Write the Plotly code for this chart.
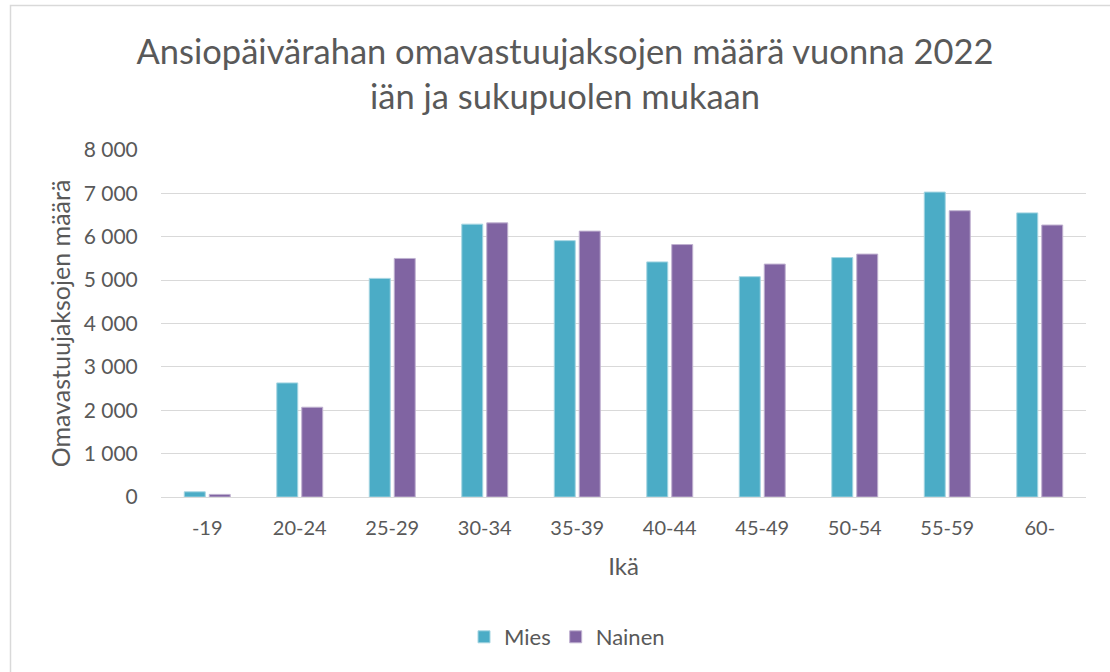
import plotly.graph_objects as go

categories = ["-19", "20-24", "25-29", "30-34", "35-39", "40-44", "45-49", "50-54", "55-59", "60-"]
mies = [120, 2630, 5040, 6290, 5910, 5420, 5080, 5520, 7030, 6550]
nainen = [60, 2070, 5500, 6320, 6130, 5820, 5370, 5600, 6600, 6270]

W, H = 1110, 672
ml, mr, mt, mb = 161, 24, 150, 175
pw, ph = W - ml - mr, H - mt - mb

FONT = "Lato"
GREY = "#595959"

fig = go.Figure()
fig.add_trace(go.Bar(name="Mies", x=categories, y=mies, marker_color="#4BACC6",
                     marker_line=dict(color="#A5D5E2", width=1)))
fig.add_trace(go.Bar(name="Nainen", x=categories, y=nainen, marker_color="#8064A2",
                     marker_line=dict(color="#BFB1D0", width=1)))

def px_x(p):
    return (p - ml) / pw

def px_y(p):
    return 1 - (p - mt) / ph

fig.update_layout(
    width=W, height=H,
    margin=dict(l=ml, r=mr, t=mt, b=mb, autoexpand=False),
    paper_bgcolor="white", plot_bgcolor="white",
    separators=", ",
    font=dict(family=FONT, color=GREY, size=20),
    barmode="group", bargap=0.46, bargroupgap=0.16,
    title=dict(text="Ansiopäivärahan omavastuujaksojen määrä vuonna 2022<br>iän ja sukupuolen mukaan",
               x=565 / W, xanchor="center", y=1 - 64 / H, yanchor="middle",
               font=dict(family=FONT, size=34.5, color=GREY)),
    xaxis=dict(title=dict(text="Ikä", font=dict(size=24, color=GREY), standoff=20),
               showgrid=False, showline=True, linecolor="#D9D9D9", linewidth=1,
               ticks="outside", ticklen=13, tickcolor="rgba(0,0,0,0)",
               tickfont=dict(size=20, color=GREY)),
    yaxis=dict(title=dict(text="Omavastuujaksojen määrä", font=dict(size=25, color=GREY), standoff=5),
               range=[0, 8000], dtick=1000, tickformat=",d",
               showgrid=True, gridcolor="#D9D9D9", gridwidth=1, zeroline=False,
               ticks="outside", ticklen=18, tickcolor="rgba(0,0,0,0)",
               tickfont=dict(size=21, color=GREY)),
    legend=dict(orientation="h", x=567 / W, xref="container", xanchor="center",
                y=1 - 637 / H, yref="container", yanchor="middle",
                font=dict(size=22, color=GREY), itemwidth=30, traceorder="normal"),
    shapes=[dict(type="rect", xref="paper", yref="paper",
                 x0=px_x(10.5), x1=px_x(1300), y0=px_y(900), y1=px_y(5.5),
                 line=dict(color="#D9D9D9", width=1.5), fillcolor="rgba(0,0,0,0)", layer="below")],
)

fig.write_html("out.html", config={"displayModeBar": False},
               post_script="document.body.style.margin='0';document.body.style.overflow='hidden';")
